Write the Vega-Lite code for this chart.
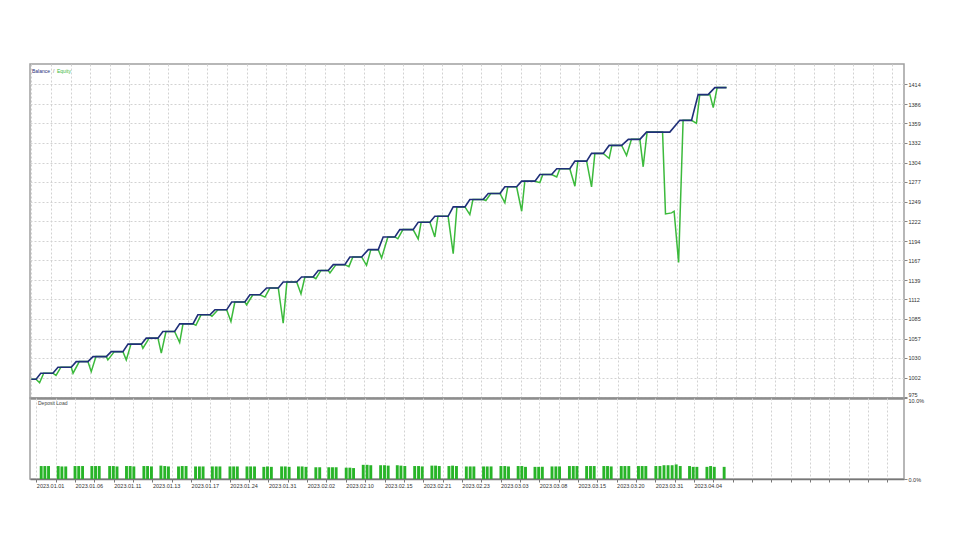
{
  "$schema": "https://vega.github.io/schema/vega-lite/v6.json",
  "padding": {"left": 27, "top": 63, "right": 5, "bottom": 5},
  "background": "white",
  "spacing": 0,
  "bounds": "flush",
  "config": {
    "view": {"stroke": "#a0a0a0", "strokeWidth": 1.5},
    "font": "Liberation Sans"
  },
  "datasets": {
    "balance": [
      {"x":0,"v":1000},{"x":2.4,"v":1000},{"x":4.8,"v":1008.4},{"x":11.0,"v":1008.4},{"x":13.6,"v":1016.8},{"x":20.4,"v":1016.8},
      {"x":22.9,"v":1024.7},{"x":28.9,"v":1024.7},{"x":31.5,"v":1031.7},{"x":38.3,"v":1031.7},{"x":40.8,"v":1038.7},{"x":46.8,"v":1038.7},
      {"x":49.4,"v":1049.2},{"x":56.2,"v":1049.2},{"x":58.7,"v":1057.6},{"x":64.7,"v":1057.6},{"x":67.2,"v":1066.9},{"x":73.2,"v":1066.9},
      {"x":75.8,"v":1077.7},{"x":82.6,"v":1077.7},{"x":85.1,"v":1090.4},{"x":91.3,"v":1090.4},{"x":93.8,"v":1097.4},{"x":99.8,"v":1097.4},
      {"x":102.4,"v":1108.3},{"x":109.1,"v":1108.3},{"x":111.7,"v":1118.5},{"x":116.8,"v":1118.5},{"x":120.2,"v":1128.0},{"x":126.2,"v":1128.0},
      {"x":128.7,"v":1136.4},{"x":135.6,"v":1136.4},{"x":138.1,"v":1143.4},{"x":144.0,"v":1143.4},{"x":146.6,"v":1152.7},{"x":151.7,"v":1152.7},
      {"x":154.3,"v":1160.8},{"x":160.2,"v":1160.8},{"x":162.8,"v":1171.6},{"x":168.8,"v":1171.6},{"x":172.2,"v":1181.9},{"x":177.3,"v":1181.9},
      {"x":179.8,"v":1199.7},{"x":185.8,"v":1199.7},{"x":188.3,"v":1210.0},{"x":195.1,"v":1210.0},{"x":197.7,"v":1220.3},{"x":203.7,"v":1220.3},
      {"x":206.2,"v":1228.7},{"x":213.0,"v":1228.7},{"x":215.6,"v":1241.9},{"x":221.6,"v":1241.9},{"x":224.1,"v":1252.2},{"x":230.9,"v":1252.2},
      {"x":233.5,"v":1260.7},{"x":239.5,"v":1260.7},{"x":242.0,"v":1270.1},{"x":248.0,"v":1270.1},{"x":250.6,"v":1278.0},{"x":257.4,"v":1278.0},
      {"x":259.9,"v":1287.4},{"x":265.9,"v":1287.4},{"x":268.5,"v":1295.4},{"x":275.2,"v":1295.4},{"x":277.8,"v":1306.1},{"x":283.8,"v":1306.1},
      {"x":286.3,"v":1317.0},{"x":292.3,"v":1317.0},{"x":295.3,"v":1328.2},{"x":301.7,"v":1328.2},{"x":305.1,"v":1336.7},{"x":311.0,"v":1336.7},
      {"x":314.4,"v":1346.9},{"x":326.3,"v":1346.9},{"x":331.4,"v":1363.4},{"x":337.4,"v":1363.4},{"x":340.8,"v":1399.5},{"x":345.9,"v":1399.5},
      {"x":349.3,"v":1409.4},{"x":355.3,"v":1409.4}
    ],
    "equity": [
      {"x":0,"v":1000},{"x":2.4,"v":1000},{"x":4.2,"v":995},{"x":6.3,"v":1008.4},
      {"x":11.0,"v":1008.4},{"x":12.6,"v":1005.3},{"x":15.1,"v":1016.8},
      {"x":20.4,"v":1016.8},{"x":21.3,"v":1008.4},{"x":24.5,"v":1024.7},
      {"x":28.9,"v":1024.7},{"x":30.6,"v":1010.6},{"x":33.0,"v":1031.7},
      {"x":38.3,"v":1031.7},{"x":39.1,"v":1027.1},{"x":42.4,"v":1038.7},
      {"x":46.8,"v":1038.7},{"x":48.5,"v":1027.1},{"x":50.9,"v":1049.2},
      {"x":56.2,"v":1049.2},{"x":57.0,"v":1043.5},{"x":60.2,"v":1057.6},
      {"x":64.7,"v":1057.6},{"x":66.4,"v":1036.5},{"x":68.8,"v":1066.9},
      {"x":73.2,"v":1066.9},{"x":75.8,"v":1051.4},{"x":77.5,"v":1077.7},
      {"x":82.6,"v":1077.7},{"x":84.1,"v":1075.6},{"x":86.7,"v":1090.4},
      {"x":91.3,"v":1090.4},{"x":92.3,"v":1088.3},{"x":95.4,"v":1097.4},
      {"x":99.8,"v":1097.4},{"x":102.0,"v":1081.0},{"x":104.0,"v":1108.3},
      {"x":109.1,"v":1108.3},{"x":110.0,"v":1104.5},{"x":113.2,"v":1118.5},
      {"x":116.8,"v":1118.5},{"x":119.4,"v":1115.3},{"x":121.9,"v":1128.0},
      {"x":126.2,"v":1128.0},{"x":128.7,"v":1078.7},{"x":130.6,"v":1136.4},
      {"x":135.6,"v":1136.4},{"x":137.8,"v":1119.9},{"x":139.8,"v":1143.4},
      {"x":144.0,"v":1143.4},{"x":145.4,"v":1141.0},{"x":148.0,"v":1152.7},
      {"x":151.7,"v":1152.7},{"x":152.6,"v":1149.1},{"x":155.7,"v":1160.8},
      {"x":160.2,"v":1160.8},{"x":162.3,"v":1158.0},{"x":164.3,"v":1171.6},
      {"x":168.8,"v":1171.6},{"x":171.3,"v":1159.8},{"x":173.5,"v":1181.9},
      {"x":177.3,"v":1181.9},{"x":179.0,"v":1170.2},{"x":182.2,"v":1199.7},
      {"x":185.8,"v":1199.7},{"x":187.3,"v":1197.1},{"x":189.9,"v":1210.0},
      {"x":195.1,"v":1210.0},{"x":197.7,"v":1196.9},{"x":199.2,"v":1220.3},
      {"x":203.7,"v":1220.3},{"x":206.2,"v":1199.7},{"x":207.8,"v":1228.7},
      {"x":213.0,"v":1228.7},{"x":215.6,"v":1176.2},{"x":217.5,"v":1241.9},
      {"x":221.6,"v":1241.9},{"x":224.1,"v":1231.1},{"x":225.7,"v":1252.2},
      {"x":230.9,"v":1252.2},{"x":232.3,"v":1250.8},{"x":234.8,"v":1260.7},
      {"x":239.5,"v":1260.7},{"x":242.0,"v":1247.6},{"x":243.5,"v":1270.1},
      {"x":248.0,"v":1270.1},{"x":250.6,"v":1235.8},{"x":252.2,"v":1278.0},
      {"x":257.4,"v":1278.0},{"x":259.9,"v":1276.0},{"x":261.4,"v":1287.4},
      {"x":265.9,"v":1287.4},{"x":268.5,"v":1284.0},{"x":270.1,"v":1295.4},
      {"x":275.2,"v":1295.4},{"x":277.8,"v":1270.9},{"x":279.3,"v":1306.1},
      {"x":283.8,"v":1306.1},{"x":286.3,"v":1270.1},{"x":288.0,"v":1317.0},
      {"x":292.3,"v":1317.0},{"x":295.3,"v":1309.9},{"x":296.7,"v":1328.2},
      {"x":301.7,"v":1328.2},{"x":304.2,"v":1314.1},{"x":306.7,"v":1336.7},
      {"x":311.0,"v":1336.7},{"x":312.7,"v":1298.2},{"x":314.7,"v":1346.9},
      {"x":322.6,"v":1346.9},{"x":324.1,"v":1232.1},{"x":327.2,"v":1233.5},{"x":328.5,"v":1235.8},{"x":330.8,"v":1164.0},{"x":333.1,"v":1363.4},
      {"x":337.4,"v":1363.4},{"x":339.9,"v":1359.2},{"x":341.6,"v":1399.5},
      {"x":346.8,"v":1399.5},{"x":348.5,"v":1381.3},{"x":350.5,"v":1409.4},{"x":355.3,"v":1409.4}
    ],
    "load": [
      {"x":2.5,"p":1.6},{"x":4.4,"p":1.6},{"x":6.3,"p":1.6},
      {"x":11.3,"p":1.6},{"x":13.2,"p":1.55},{"x":15.2,"p":1.55},
      {"x":20.0,"p":1.6},{"x":21.9,"p":1.6},{"x":23.9,"p":1.6},
      {"x":28.7,"p":1.6},{"x":30.6,"p":1.6},{"x":32.5,"p":1.6},
      {"x":37.9,"p":1.6},{"x":39.8,"p":1.6},{"x":41.7,"p":1.55},
      {"x":46.6,"p":1.6},{"x":48.5,"p":1.6},{"x":50.4,"p":1.55},
      {"x":55.6,"p":1.6},{"x":57.5,"p":1.6},{"x":59.5,"p":1.55},
      {"x":64.4,"p":1.65},{"x":66.4,"p":1.6},{"x":68.3,"p":1.55},
      {"x":73.5,"p":1.55},{"x":75.4,"p":1.6},{"x":77.4,"p":1.6},
      {"x":82.3,"p":1.55},{"x":84.3,"p":1.55},{"x":86.2,"p":1.55},
      {"x":91.0,"p":1.55},{"x":93.0,"p":1.55},{"x":94.9,"p":1.55},
      {"x":100.1,"p":1.55},{"x":102.0,"p":1.55},{"x":103.9,"p":1.55},
      {"x":108.9,"p":1.55},{"x":110.8,"p":1.55},{"x":112.8,"p":1.55},
      {"x":117.6,"p":1.5},{"x":119.5,"p":1.55},{"x":121.5,"p":1.5},
      {"x":126.8,"p":1.55},{"x":128.7,"p":1.55},{"x":130.7,"p":1.5},
      {"x":135.5,"p":1.55},{"x":137.4,"p":1.55},{"x":139.4,"p":1.5},
      {"x":144.5,"p":1.45},{"x":146.5,"p":1.45},
      {"x":151.2,"p":1.45},{"x":153.1,"p":1.45},{"x":155.0,"p":1.45},
      {"x":160.2,"p":1.4},{"x":162.1,"p":1.4},{"x":164.0,"p":1.35},
      {"x":169.0,"p":1.75},{"x":171.0,"p":1.75},{"x":172.9,"p":1.7},
      {"x":178.0,"p":1.7},{"x":180.0,"p":1.7},{"x":181.9,"p":1.65},
      {"x":186.6,"p":1.7},{"x":188.5,"p":1.65},{"x":190.5,"p":1.6},
      {"x":195.6,"p":1.6},{"x":197.6,"p":1.6},{"x":199.5,"p":1.55},
      {"x":204.5,"p":1.65},{"x":206.4,"p":1.65},{"x":208.3,"p":1.6},
      {"x":213.3,"p":1.6},{"x":215.2,"p":1.65},{"x":217.2,"p":1.6},
      {"x":222.3,"p":1.55},{"x":224.3,"p":1.55},{"x":226.2,"p":1.55},
      {"x":231.2,"p":1.55},{"x":233.1,"p":1.55},{"x":235.1,"p":1.55},
      {"x":240.2,"p":1.6},{"x":242.2,"p":1.6},{"x":244.1,"p":1.55},
      {"x":249.1,"p":1.6},{"x":251.0,"p":1.6},{"x":252.9,"p":1.5},
      {"x":257.8,"p":1.5},{"x":259.7,"p":1.5},{"x":261.6,"p":1.5},
      {"x":266.6,"p":1.55},{"x":268.6,"p":1.55},{"x":270.5,"p":1.55},
      {"x":275.6,"p":1.6},{"x":277.6,"p":1.6},{"x":279.5,"p":1.6},
      {"x":284.5,"p":1.6},{"x":286.5,"p":1.6},{"x":288.4,"p":1.6},
      {"x":293.4,"p":1.6},{"x":295.3,"p":1.6},{"x":297.2,"p":1.55},
      {"x":302.4,"p":1.6},{"x":304.3,"p":1.6},{"x":306.3,"p":1.6},
      {"x":311.3,"p":1.6},{"x":313.2,"p":1.6},{"x":315.1,"p":1.6},
      {"x":320.3,"p":1.6},{"x":322.4,"p":1.6},{"x":324.5,"p":1.7},{"x":326.6,"p":1.7},{"x":328.7,"p":1.7},{"x":330.8,"p":1.8},{"x":332.9,"p":1.6},
      {"x":337.7,"p":1.6},{"x":339.6,"p":1.5},{"x":341.5,"p":1.5},
      {"x":346.7,"p":1.5},{"x":348.6,"p":1.6},{"x":350.5,"p":1.5},
      {"x":355.6,"p":1.5}
    ]
  },
  "vconcat": [
    {
      "width": 874,
      "height": 334,
      "encoding": {
        "x": {"type": "quantitative", "scale": {"domain": [-0.7, 446], "nice": false, "zero": false},
          "axis": {"values": [0,10,20,30,40,50,60,70,80,90,100,110,120,130,140,150,160,170,180,190,200,210,220,230,240,250,260,270,280,290,300,310,320,330,340,350,360,370,380,390,400,410,420,430,440],
            "grid": true, "gridColor": "#d2d2d2", "gridDash": [2, 2], "labels": false, "ticks": false,
            "domain": true, "domainColor": "#555555", "domainWidth": 2, "title": null}},
        "y": {"type": "quantitative", "scale": {"domain": [973.6, 1442.5], "nice": false, "zero": false},
          "axis": {"orient": "right", "values": [975,1002,1030,1057,1085,1112,1139,1167,1194,1222,1249,1277,1304,1332,1359,1386,1414],
            "format": "d",
            "labelBaseline": {"condition": {"test": "datum.value == 975", "value": "bottom"}, "value": "middle"},
            "grid": true, "gridColor": "#d2d2d2", "gridDash": [2, 2], "tickSize": 3, "tickColor": "#888888",
            "labelFontSize": 5.5, "labelColor": "#333333", "labelFont": "Liberation Sans", "labelPadding": 1,
            "domain": false, "title": null, "labelOverlap": false}}
      },
      "layer": [
        {
          "data": {"name": "equity"},
          "mark": {"type": "line", "color": "#3cba3c", "strokeWidth": 1.5},
          "encoding": {"x": {"field": "x"}, "y": {"field": "v"}}
        },
        {
          "data": {"name": "balance"},
          "mark": {"type": "line", "color": "#1f2f78", "strokeWidth": 1.6},
          "encoding": {"x": {"field": "x"}, "y": {"field": "v"}}
        },
        {
          "data": {"values": [{"label": "Balance", "x": -0.7, "v": 1442.5}]},
          "mark": {"type": "text", "align": "left", "baseline": "middle", "dx": 2, "dy": 7, "fontSize": 5, "font": "Liberation Sans", "color": "#1f2f78"},
          "encoding": {"x": {"field": "x"}, "y": {"field": "v"}, "text": {"field": "label"}}
        },
        {
          "data": {"values": [{"label": "/", "x": -0.7, "v": 1442.5}]},
          "mark": {"type": "text", "align": "left", "baseline": "middle", "dx": 23, "dy": 7, "fontSize": 5, "font": "Liberation Sans", "color": "#777777"},
          "encoding": {"x": {"field": "x"}, "y": {"field": "v"}, "text": {"field": "label"}}
        },
        {
          "data": {"values": [{"label": "Equity", "x": -0.7, "v": 1442.5}]},
          "mark": {"type": "text", "align": "left", "baseline": "middle", "dx": 27, "dy": 7, "fontSize": 5, "font": "Liberation Sans", "color": "#3cba3c"},
          "encoding": {"x": {"field": "x"}, "y": {"field": "v"}, "text": {"field": "label"}}
        }
      ]
    },
    {
      "width": 874,
      "height": 81,
      "encoding": {
        "x": {"type": "quantitative", "scale": {"domain": [-0.7, 446], "nice": false, "zero": false},
          "axis": {"values": [0,10,20,30,40,50,60,70,80,90,100,110,120,130,140,150,160,170,180,190,200,210,220,230,240,250,260,270,280,290,300,310,320,330,340,350,360,370,380,390,400,410,420,430,440],
            "grid": true, "gridColor": "#d2d2d2", "gridDash": [2, 2],
            "labelExpr": "datum.value % 20 == 0 && datum.value <= 340 ? ['2023.01.01','2023.01.06','2023.01.11','2023.01.13','2023.01.17','2023.01.24','2023.01.31','2023.02.02','2023.02.10','2023.02.15','2023.02.21','2023.02.23','2023.03.03','2023.03.08','2023.03.15','2023.03.20','2023.03.31','2023.04.04'][datum.value / 20] : ''",
            "labelAlign": "left", "labelFontSize": 5.5, "labelColor": "#333333", "labelFont": "Liberation Sans", "labelPadding": 1,
            "labelOverlap": false, "labelFlush": false, "labelBound": false,
            "tickSize": 3, "tickColor": "#777777", "domainColor": "#777777", "domainWidth": 1.5, "title": null}},
        "y": {"type": "quantitative", "scale": {"domain": [0, 10], "nice": false},
          "axis": {"orient": "right", "values": [0, 10], "labelExpr": "format(datum.value, '.1f') + '%'",
            "labelBaseline": {"condition": {"test": "datum.value == 10", "value": "top"}, "value": "middle"},
            "grid": false, "tickSize": 3, "tickColor": "#888888", "labelFontSize": 5.5, "labelColor": "#333333",
            "labelFont": "Liberation Sans", "labelPadding": 1, "domain": false, "title": null, "labelOverlap": false}}
      },
      "layer": [
        {
          "data": {"name": "load"},
          "mark": {"type": "bar", "color": "#28b428", "size": 2.9},
          "encoding": {"x": {"field": "x"}, "y": {"field": "p"}}
        },
        {
          "data": {"values": [{"label": "Deposit Load", "x": -0.7, "p": 10}]},
          "mark": {"type": "text", "align": "left", "baseline": "middle", "dx": 3, "dy": 5, "fontSize": 5, "font": "Liberation Sans", "color": "#444444"},
          "encoding": {"x": {"field": "x"}, "y": {"field": "p"}, "text": {"field": "label"}}
        }
      ]
    }
  ]
}
